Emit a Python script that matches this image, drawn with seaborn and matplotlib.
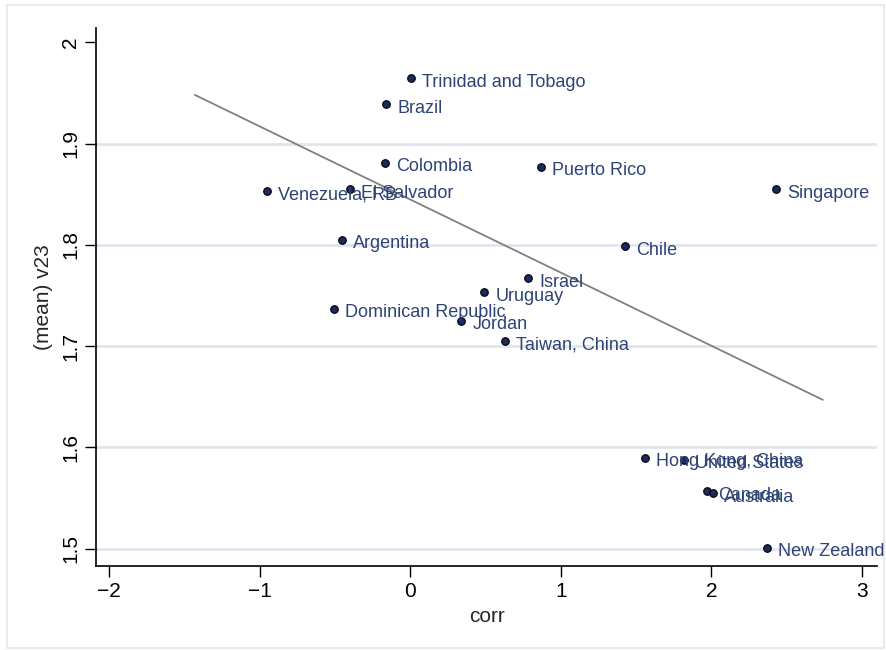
import matplotlib.pyplot as plt
import seaborn as sns
import pandas as pd
from matplotlib.patches import Rectangle

countries = ["Trinidad and Tobago", "Brazil", "Colombia", "Puerto Rico", "Singapore",
             "Venezuela, RB", "El Salvador", "Argentina", "Chile", "Israel", "Uruguay",
             "Dominican Republic", "Jordan", "Taiwan, China", "Hong Kong, China",
             "United States", "Canada", "Australia", "New Zealand"]
corr = [0.007, -0.159, -0.166, 0.870, 2.43, -0.950, -0.398, -0.452, 1.428, 0.784, 0.491,
        -0.505, 0.339, 0.631, 1.561, 1.820, 1.973, 2.012, 2.371]
v23 = [1.9645, 1.939, 1.881, 1.877, 1.855, 1.853, 1.855, 1.805, 1.799, 1.767, 1.753,
       1.737, 1.725, 1.705, 1.590, 1.588, 1.557, 1.555, 1.501]

# fitted line endpoints
fit_x = [-1.43, 2.74]
fit_y = [1.948, 1.647]

navy = "#1a2a5c"
label_col = "#2e4374"

df = pd.DataFrame({"country": countries, "corr": corr, "v23": v23})
fit = pd.DataFrame({"corr": fit_x, "v23": fit_y})

sns.set_style("white")
plt.rcParams['font.family'] = ['Liberation Sans', 'DejaVu Sans']

fig = plt.figure(figsize=(8.86, 6.5), dpi=100)
fig.patch.set_facecolor("white")
fig.patches.append(Rectangle((7 / 886, 2 / 650), 877 / 886, 643 / 650,
                             transform=fig.transFigure, facecolor="white",
                             edgecolor="#e8eaee", linewidth=1.5, zorder=-10))
ax = fig.add_axes([96 / 886, 84 / 650, 781 / 886, 538 / 650])
ax.set_zorder(5)
ax.patch.set_alpha(0)

sns.lineplot(data=fit, x="corr", y="v23", color="#808080", linewidth=1.3, ax=ax, zorder=3)
sns.scatterplot(data=df, x="corr", y="v23", color=navy, edgecolor="black",
                linewidth=0.8, s=30, ax=ax, zorder=4)
for _, r in df.iterrows():
    ax.annotate(r["country"], (r["corr"], r["v23"]), xytext=(8, -3),
                textcoords="offset points", va="center", ha="left",
                fontsize=13, color=label_col, zorder=5)

ax.set_xlim(-2.086, 3.10)
ax.set_ylim(1.483, 2.014)
ax.set_xticks([-2, -1, 0, 1, 2, 3])
ax.set_yticks([1.5, 1.6, 1.7, 1.8, 1.9, 2])
ax.set_yticklabels(["1.5", "1.6", "1.7", "1.8", "1.9", "2"], rotation=90, va="center")
ax.yaxis.grid(True, color="#e1e5ee", linewidth=2)
ax.get_ygridlines()[-1].set_visible(False)
ax.set_axisbelow(True)
ax.tick_params(axis="both", direction="out", length=8, width=1, colors="black",
               labelsize=15, left=True, bottom=True)
for s in ["top", "right"]:
    ax.spines[s].set_visible(False)
for s in ["left", "bottom"]:
    ax.spines[s].set_color("black")
    ax.spines[s].set_linewidth(1.2)
ax.set_xlabel("corr", fontsize=15, labelpad=4)
ax.set_ylabel("(mean) v23", fontsize=15, labelpad=6)

plt.savefig("out.png", dpi=100)
plt.close()
